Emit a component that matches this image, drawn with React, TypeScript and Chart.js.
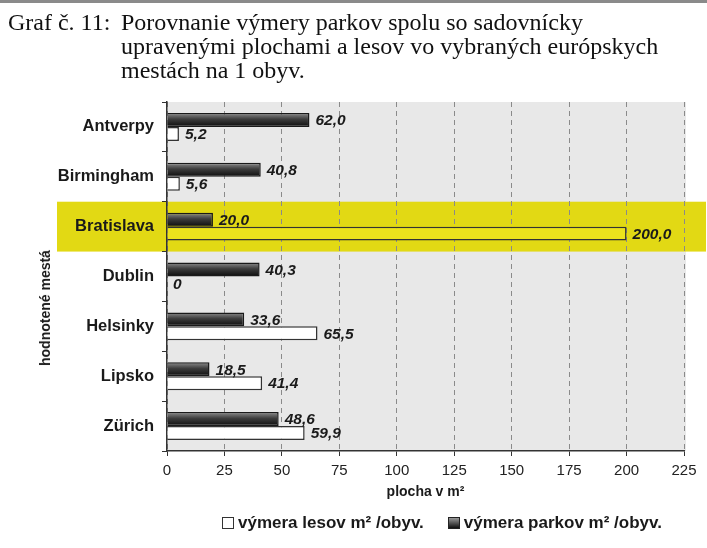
import React, { useEffect, useRef } from "react";
import { Chart, registerables } from "chart.js";

Chart.register(...registerables);

const cities = ["Antverpy", "Birmingham", "Bratislava", "Dublin", "Helsinky", "Lipsko", "Zürich"];
const parksValues = [62.0, 40.8, 20.0, 40.3, 33.6, 18.5, 48.6];
const forestValues = [5.2, 5.6, 200.0, 0, 65.5, 41.4, 59.9];
const parksLabel = "výmera parkov m² /obyv.";
const forestLabel = "výmera lesov m² /obyv.";
const highlightCity = "Bratislava";
const xMin = 0;
const xMax = 225;
const xStep = 25;
const titleLead = "Graf č. 11:";
const titleLines = [
  "Porovnanie výmery parkov spolu so sadovnícky",
  "upravenými plochami a lesov vo vybraných európskych",
  "mestách na 1 obyv.",
];
const xTitle = "plocha v m²";
const yTitle = "hodnotené mestá";

const CAT_PCT = 0.56;
const SANS = '"Liberation Sans", Arial, sans-serif';

const fmt = (v: number) => (v === 0 ? "0" : v.toFixed(1).replace(".", ","));

const bgPlugin = {
  id: "bgPlugin",
  beforeDraw(chart: any) {
    const { ctx, chartArea: a, scales } = chart;
    const y = scales.y;
    ctx.save();
    ctx.fillStyle = "#e8e8e8";
    ctx.fillRect(a.left, a.top, a.right - a.left + 2, a.bottom - a.top);
    const idx = cities.indexOf(highlightCity);
    const band = (a.bottom - a.top) / cities.length;
    const cy = y.getPixelForValue(idx);
    ctx.fillStyle = "#e2d914";
    ctx.fillRect(57, cy - band / 2, 706 - 57, band);
    ctx.restore();
  },
};

const labelPlugin = {
  id: "labelPlugin",
  afterDatasetsDraw(chart: any) {
    const { ctx } = chart;
    ctx.save();
    ctx.font = `italic bold 15.5px ${SANS}`;
    ctx.fillStyle = "#1a1a1a";
    ctx.textAlign = "left";
    ctx.textBaseline = "middle";
    chart.data.datasets.forEach((ds: any, di: number) => {
      const meta = chart.getDatasetMeta(di);
      meta.data.forEach((el: any, i: number) => {
        const v = ds.data[i] as number;
        ctx.fillText(fmt(v), el.x + 6, el.y + 1);
      });
    });
    ctx.restore();
  },
};

export default function App() {
  const ref = useRef<HTMLCanvasElement>(null);

  useEffect(() => {
    const canvas = ref.current;
    if (!canvas) return;
    const hi = cities.indexOf(highlightCity);
    const parksFill = (c: any) => {
      const chart = c.chart;
      const a = chart.chartArea;
      const y = chart.scales && chart.scales.y;
      if (!a || !y) return "#333";
      const band = (a.bottom - a.top) / cities.length;
      const cy = y.getPixelForValue(c.dataIndex);
      const top = cy - (band * CAT_PCT) / 2;
      const g = chart.ctx.createLinearGradient(0, top, 0, cy);
      g.addColorStop(0, "#8e8e8e");
      g.addColorStop(0.45, "#3c3c3c");
      g.addColorStop(1, "#0c0c0c");
      return g;
    };
    const chart = new Chart(canvas, {
      type: "bar",
      data: {
        labels: cities,
        datasets: [
          {
            label: parksLabel,
            data: parksValues,
            backgroundColor: parksFill,
            borderColor: "#1a1a1a",
            borderWidth: 1.5,
          },
          {
            label: forestLabel,
            data: forestValues,
            backgroundColor: cities.map((_, i) => (i === hi ? "#ece31c" : "#ffffff")),
            borderColor: "#333",
            borderWidth: 1.5,
          },
        ],
      },
      options: {
        indexAxis: "y",
        animation: false,
        responsive: false,
        maintainAspectRatio: false,
        categoryPercentage: CAT_PCT,
        barPercentage: 1.0,
        layout: { padding: { top: 102, right: 23, bottom: 47, left: 0 } },
        plugins: {
          legend: { display: false },
          tooltip: { enabled: false },
        },
        scales: {
          x: {
            min: xMin,
            max: xMax,
            afterFit: (s: any) => {
              s.height = 50;
            },
            ticks: {
              stepSize: xStep,
              color: "#222",
              font: { family: SANS, size: 15 },
              padding: 6,
            },
            grid: {
              color: "#8a8a8a",
              lineWidth: 1,
              tickColor: "#333",
              tickLength: 5,
              tickBorderDash: [],
            } as any,
            border: { display: true, color: "#333", width: 1.5, dash: [5, 4] },
            title: {
              display: true,
              text: xTitle,
              color: "#1a1a1a",
              font: { family: SANS, size: 14, weight: "bold" },
              padding: 0,
            },
          },
          y: {
            afterFit: (s: any) => {
              s.width = 167;
            },
            ticks: {
              color: "#1a1a1a",
              font: { family: SANS, size: 16.5, weight: "bold" },
              padding: 8,
            },
            grid: {
              offset: true,
              drawOnChartArea: false,
              drawTicks: true,
              tickLength: 5,
              color: "#333",
            },
            border: { display: true, color: "#333", width: 1.5 },
          },
        },
      },
      plugins: [bgPlugin, labelPlugin],
    } as any);
    return () => chart.destroy();
  }, []);

  return (
    <div
      style={{
        position: "fixed",
        left: 0,
        top: 0,
        width: 707,
        height: 548,
        background: "#fff",
        overflow: "hidden",
      }}
    >
      <div style={{ position: "absolute", left: 0, top: 0, width: 707, height: 3, background: "#8a8a8a" }} />
      <canvas ref={ref} width={707} height={548} style={{ position: "absolute", left: 0, top: 0 }} />
      <div
        style={{
          position: "absolute",
          left: 8,
          top: 10,
          display: "flex",
          font: '24px "Liberation Serif", "Times New Roman", serif',
          lineHeight: "24px",
          color: "#111",
          whiteSpace: "nowrap",
        }}
      >
        <div style={{ width: 113 }}>{titleLead}</div>
        <div>
          {titleLines.map((l, i) => (
            <div key={i}>{l}</div>
          ))}
        </div>
      </div>
      <div
        style={{
          position: "absolute",
          left: 45,
          top: 308,
          transform: "translate(-50%, -50%) rotate(-90deg)",
          font: `bold 14px ${SANS}`,
          color: "#1a1a1a",
          whiteSpace: "nowrap",
        }}
      >
        {yTitle}
      </div>
      <div
        style={{
          position: "absolute",
          left: 222,
          top: 513,
          display: "flex",
          alignItems: "center",
          font: `bold 17px ${SANS}`,
          color: "#1a1a1a",
          whiteSpace: "nowrap",
        }}
      >
        <span style={{ display: "inline-block", width: 10, height: 10, border: "1px solid #333", background: "#fff", marginRight: 4 }} />
        <span style={{ marginRight: 24 }}>{forestLabel}</span>
        <span style={{ display: "inline-block", width: 10, height: 10, border: "1px solid #222", background: "linear-gradient(#999,#111)", marginRight: 4 }} />
        <span>{parksLabel}</span>
      </div>
    </div>
  );
}
